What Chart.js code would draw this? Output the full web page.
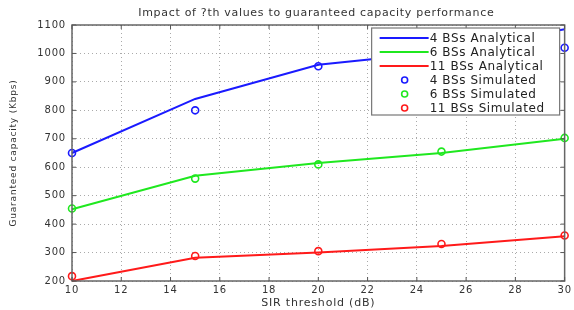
<!DOCTYPE html>
<html><head><meta charset="utf-8">
<script src="https://cdn.jsdelivr.net/npm/chart.js@4/dist/chart.umd.min.js"></script>
<style>html,body{margin:0;padding:0;background:#fff}#wrap{width:574px;height:310px;position:relative}</style>
</head><body><div id="wrap"><canvas id="c"></canvas></div>
<script>
const titleText = 'Impact of ?th values to guaranteed capacity performance';
const xLabel = 'SIR threshold (dB)';
const yLabel = 'Guaranteed capacity (Kbps)';
const sirThreshold = [10, 15, 20, 25, 30];
const analytical4 = [650, 840, 960, 1005, 1085];
const analytical6 = [452, 570, 615, 650, 700];
const analytical11 = [200, 282, 300, 323, 357];
const simulated4 = [650, 800, 955, 1000, 1020];
const simulated6 = [455, 560, 610, 655, 703];
const simulated11 = [217, 288, 305, 330, 360];
const seriesNames = ['4 BSs Analytical','6 BSs Analytical','11 BSs Analytical','4 BSs Simulated','6 BSs Simulated','11 BSs Simulated'];
const colors = ['#1a1aff', '#1fe81f', '#ff1a1a'];

const pts = arr => arr.map((v, i) => ({x: sirThreshold[i], y: v}));
const FONT = 'DejaVu Sans';

const lineDs = (name, data, c) => ({label: name, data: pts(data), borderColor: c, backgroundColor: c, borderWidth: 2, pointRadius: 0, showLine: true, clip: false, order: 2});
const simDs = (name, data, c) => ({label: name, data: pts(data), borderColor: c, backgroundColor: 'rgba(0,0,0,0)', borderWidth: 1.6, pointRadius: 3.5, pointStyle: 'circle', showLine: false, clip: false, order: 1});

const boxPlugin = {
  id: 'boxPlugin',
  beforeDraw(chart) {
    chart.ctx.letterSpacing = '0.8px';
  },
  afterDraw(chart) {
    const {ctx, chartArea: a, scales} = chart;
    ctx.save();
    // axes box
    ctx.strokeStyle = '#666';
    ctx.lineWidth = 1.5;
    ctx.strokeRect(a.left, a.top, a.right - a.left, a.bottom - a.top);
    // inward ticks
    ctx.lineWidth = 1;
    ctx.strokeStyle = '#555';
    scales.x.ticks.forEach(t => {
      const px = scales.x.getPixelForValue(t.value);
      ctx.beginPath(); ctx.moveTo(px, a.top); ctx.lineTo(px, a.top + 4); ctx.stroke();
      ctx.beginPath(); ctx.moveTo(px, a.bottom); ctx.lineTo(px, a.bottom - 4); ctx.stroke();
    });
    scales.y.ticks.forEach(t => {
      const py = scales.y.getPixelForValue(t.value);
      ctx.beginPath(); ctx.moveTo(a.right, py); ctx.lineTo(a.right - 4, py); ctx.stroke();
      ctx.beginPath(); ctx.moveTo(a.left, py); ctx.lineTo(a.left + 4, py); ctx.stroke();
    });
    // title
    ctx.letterSpacing = '0.7px';
    ctx.fillStyle = '#333';
    ctx.font = '11px "' + FONT + '"';
    ctx.textAlign = 'center';
    ctx.textBaseline = 'middle';
    ctx.fillText(titleText, (a.left + a.right) / 2 - 2, 13);
    // legend
    const lx = a.right - 193, ly = a.top + 3, lw = 188, lh = 87;
    ctx.fillStyle = '#fff';
    ctx.fillRect(lx, ly, lw, lh);
    ctx.strokeStyle = '#777';
    ctx.lineWidth = 1.2;
    ctx.strokeRect(lx, ly, lw, lh);
    ctx.letterSpacing = '0.6px';
    ctx.font = '12px "' + FONT + '"';
    ctx.textAlign = 'left';
    chart.data.datasets.forEach((ds, i) => {
      const yy = ly + 10 + i * 14;
      const c = ds.borderColor;
      if (ds.showLine) {
        ctx.strokeStyle = c; ctx.lineWidth = 2;
        ctx.beginPath(); ctx.moveTo(lx + 8, yy); ctx.lineTo(lx + 57, yy); ctx.stroke();
      } else {
        ctx.strokeStyle = c; ctx.lineWidth = 1.6;
        ctx.beginPath(); ctx.arc(lx + 33, yy, 3, 0, Math.PI * 2); ctx.stroke();
      }
      ctx.fillStyle = '#222';
      ctx.fillText(ds.label, lx + 58, yy + 1);
    });
    ctx.restore();
  }
};

new Chart(document.getElementById('c'), {
  type: 'scatter',
  data: {
    datasets: [
      lineDs(seriesNames[0], analytical4, colors[0]),
      lineDs(seriesNames[1], analytical6, colors[1]),
      lineDs(seriesNames[2], analytical11, colors[2]),
      simDs(seriesNames[3], simulated4, colors[0]),
      simDs(seriesNames[4], simulated6, colors[1]),
      simDs(seriesNames[5], simulated11, colors[2])
    ]
  },
  options: {
    responsive: true,
    maintainAspectRatio: false,
    animation: false,
    layout: {padding: {top: 25, right: 6, left: 0, bottom: 0}},
    plugins: {legend: {display: false}, title: {display: false}, tooltip: {enabled: false}},
    scales: {
      x: {
        type: 'linear', min: 10, max: 30,
        ticks: {stepSize: 2, color: '#333', font: {family: FONT, size: 10}, padding: 3, maxRotation: 0, callback: v => String(v)},
        grid: {color: '#aaa', lineWidth: 1, drawTicks: false},
        border: {display: false, dash: [1, 3]},
        title: {display: true, text: xLabel, color: '#333', font: {family: FONT, size: 11}, padding: {top: 1, bottom: 0}},
        afterFit(s) { s.height = 29; }
      },
      y: {
        type: 'linear', min: 200, max: 1100,
        ticks: {stepSize: 100, color: '#333', font: {family: FONT, size: 10}, padding: 6, callback: v => String(v)},
        grid: {color: '#aaa', lineWidth: 1, drawTicks: false},
        border: {display: false, dash: [1, 3]},
        title: {display: true, text: yLabel, color: '#333', font: {family: FONT, size: 9}, padding: {top: 8, bottom: 4}},
        afterFit(s) { s.width = 72; }
      }
    }
  },
  plugins: [boxPlugin]
});
</script>
</body></html>
